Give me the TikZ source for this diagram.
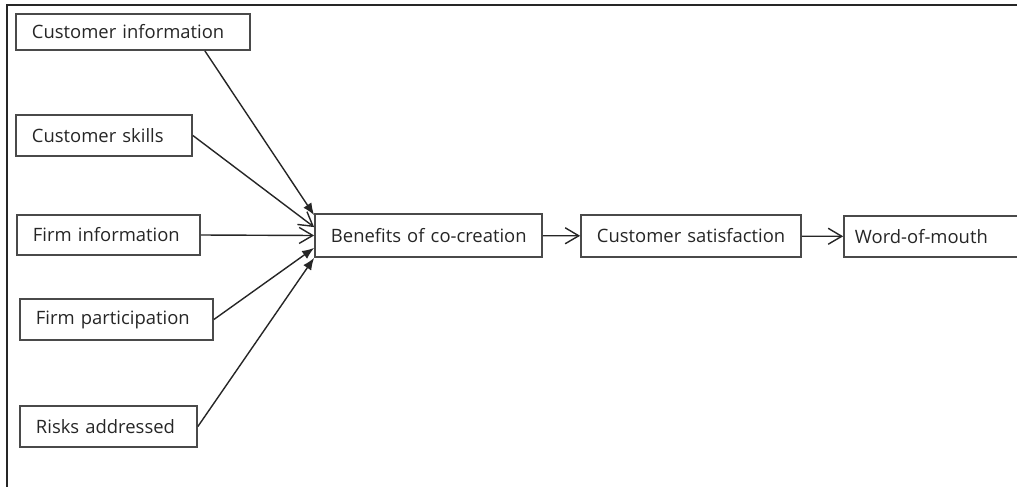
\documentclass[tikz,border=0pt]{standalone}
\usepackage{fontspec}
\setmainfont{Open Sans}
\usepackage{tikz}
\usetikzlibrary{arrows.meta,positioning}
\definecolor{inkgray}{HTML}{262626}
\definecolor{edgegray}{HTML}{4A4A4A}

\begin{document}
\begin{tikzpicture}[
        x=0.025cm, y=-0.025cm,
        box/.style={draw=edgegray, line width=1.2pt, text=inkgray, inner xsep=0.4cm, inner ysep=0pt, align=left, font=\fontsize{13.1}{15}\selectfont},
        factor/.style={box, text width=#1},
        openarrow/.style={-{Straight Barb[length=0.34cm,width=0.4cm]}, line width=1pt, draw=inkgray},
        solidarrow/.style={-{Latex[length=0.3cm,width=0.24cm]}, line width=1pt, draw=inkgray}
    ]
        \useasboundingbox (0,0) rectangle (1017,486);
        \clip (0,0) rectangle (1017,486);
        \draw[line width=1.4pt, inkgray] (7,490) -- (7,5) -- (1025,5);

        \node[factor=5.05cm, minimum height=0.9cm] (cinfo) at (133,32) {\mbox{Customer information}};
        \node[factor=3.6cm, minimum height=1.025cm] (cskills) at (104,135.5) {\mbox{Customer skills}};
        \node[factor=3.775cm, minimum height=1cm] (finfo) at (108.5,235) {\mbox{Firm information}};
        \node[factor=4.025cm, minimum height=1.025cm] (fpart) at (116.5,319.5) {\mbox{Firm participation}};
        \node[factor=3.625cm, minimum height=1.025cm] (risks) at (108.5,426.5) {\mbox{Risks addressed}};
        \node[factor=4.875cm, minimum height=1.075cm] (benefit) at (428.5,235.5) {\mbox{Benefits of co-creation}};
        \node[factor=4.7cm, minimum height=1.05cm] (csat) at (691,236) {\mbox{Customer satisfaction}};
        \node[factor=4.25cm, minimum height=1.025cm, inner xsep=0.275cm] (wom) at (940,236.5) {\mbox{Word-of-mouth}};

        \draw[solidarrow] ([xshift=-1.15cm]cinfo.south east) -- ([yshift=-0.05cm]benefit.north west);
        \draw[openarrow] (cskills.east) -- ([yshift=0.21cm]benefit.west);
        \draw[openarrow] (finfo.east) -- (benefit.west);
        \draw[solidarrow] (fpart.east) -- ([yshift=-0.31cm]benefit.west);
        \draw[solidarrow] (risks.east) -- (benefit.south west);
        \draw[openarrow] (benefit) -- (csat);
        \draw[openarrow] (csat) -- (wom);
    \end{tikzpicture}
\end{document}
